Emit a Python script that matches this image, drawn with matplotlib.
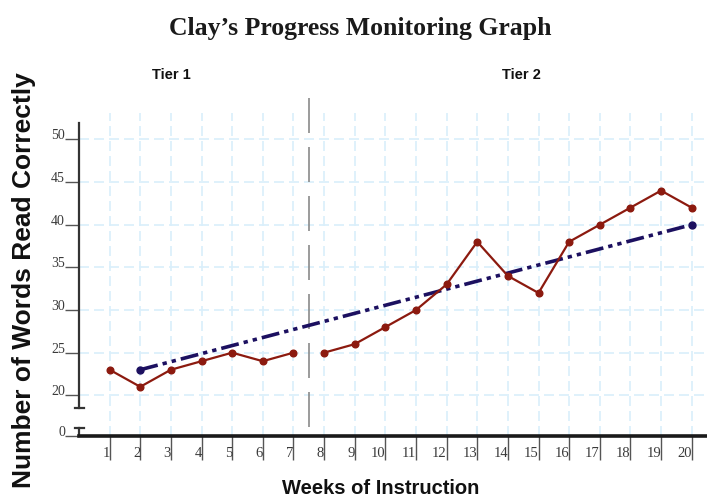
import numpy as np
import matplotlib
matplotlib.use("Agg")
import matplotlib.pyplot as plt
from matplotlib import font_manager as fm
import matplotlib.transforms as mtransforms

# data
weeks_tier1 = [1, 2, 3, 4, 5, 6, 7]
words_tier1 = [23, 21, 23, 24, 25, 24, 25]
weeks_tier2 = [8, 9, 10, 11, 12, 13, 14, 15, 16, 17, 18, 19, 20]
words_tier2 = [25, 26, 28, 30, 33, 38, 34, 32, 38, 40, 42, 44, 42]
aim_weeks = [2, 20]
aim_words = [23, 40]
week_ticks = list(range(1, 21))
y_ticks = [0, 20, 25, 30, 35, 40, 45, 50]
tier_split = 7.5

available = {f.name for f in fm.fontManager.ttflist}
narrow = "Liberation Sans Narrow" if "Liberation Sans Narrow" in available else "Liberation Sans"
serif = "Liberation Serif"

# squeeze 0-20 into a short stretch like the broken axis in the original
c = 0.2385
def fwd(v):
    v = np.asarray(v, dtype=float)
    return np.where(v >= 20, v, 20 - (20 - v) * c)
def inv(t):
    t = np.asarray(t, dtype=float)
    return np.where(t >= 20, t, 20 - (20 - t) / c)

fig = plt.figure(figsize=(7.07, 5.01), dpi=100)
ax = fig.add_axes([0.1117, 0.1297, 0.8883, 0.6448])
ax.set_yscale("function", functions=(fwd, inv))
ax.set_xlim(0, 20.5)
ax.set_ylim(0, 53.1)

grid_col = "#d9effb"
for w in week_ticks:
    ax.axvline(w, color=grid_col, lw=1.2, ls=(0, (6, 3)), zorder=0)
for v in y_ticks[1:]:
    ax.axhline(v, color=grid_col, lw=1.2, ls=(0, (6, 3)), zorder=0)

# tier divider
ax.plot([tier_split, tier_split], [54.8, 0], color="#8a8a8a", lw=1.2,
        ls=(0, (21, 8.4)), clip_on=False, zorder=1)

# aim line
ax.plot(aim_weeks, aim_words, color="#1c1060", lw=2.6,
        ls=(0, (5, 1.4, 1.2, 1.4, 1.2, 1.4)), marker="o", ms=5, zorder=3)

red = "#8c1a0f"
ax.plot(weeks_tier1, words_tier1, color=red, lw=1.6, marker="o", ms=4.8, zorder=4)
ax.plot(weeks_tier2, words_tier2, color=red, lw=1.6, marker="o", ms=4.8, zorder=4)

# spines
for s in ["top", "right", "left"]:
    ax.spines[s].set_visible(False)
ax.spines["bottom"].set_linewidth(2.6)
ax.spines["bottom"].set_color("#1a1a1a")

trans = mtransforms.blended_transform_factory(ax.transAxes, ax.transData)
spc = "#333333"
ax.plot([0, 0], [51.95, 13.6], color=spc, lw=1.6, transform=trans, clip_on=False)
ax.plot([0, 0], [4.0, 0], color=spc, lw=1.6, transform=trans, clip_on=False)
for yv in [13.6, 4.0]:
    ax.plot([-0.006, 0.008], [yv, yv], color=spc, lw=1.6, transform=trans, clip_on=False)

ax.set_xticks(week_ticks)
ax.set_xticklabels([str(w) for w in week_ticks], ha="right", fontfamily=serif,
                   fontsize=10.5, color="#3a3a3a")
ax.tick_params(axis="x", direction="out", length=17.5, width=1, color="#555555", pad=-9.5)
ax.set_yticks(y_ticks)
ax.set_yticklabels([str(v) for v in y_ticks], va="baseline", fontfamily=serif,
                   fontsize=10, color="#3a3a3a")
ax.tick_params(axis="y", direction="out", length=10, width=1, color="#555555", pad=0)
ax.yaxis.set_minor_locator(matplotlib.ticker.NullLocator())

fig.text(0.509, 0.944, "Clay\u2019s Progress Monitoring Graph", ha="center", va="center",
         fontfamily=serif, fontweight="bold", fontsize=18.5, color="#1a1a1a")
fig.text(0.243, 0.850, "Tier 1", ha="center", va="center", fontfamily=narrow,
         fontweight="bold", fontsize=10.5, color="#111111")
fig.text(0.738, 0.850, "Tier 2", ha="center", va="center", fontfamily=narrow,
         fontweight="bold", fontsize=10.5, color="#111111")
fig.text(0.034, 0.441, "Number of Words Read Correctly", ha="center", va="center",
         rotation=90, fontfamily="Liberation Sans", fontweight="bold", fontsize=19,
         color="#111111")
fig.text(0.538, 0.024, "Weeks of Instruction", ha="center", va="center",
         fontfamily=narrow, fontweight="bold", fontsize=14.5, color="#111111")

fig.savefig("out.png", dpi=100)
